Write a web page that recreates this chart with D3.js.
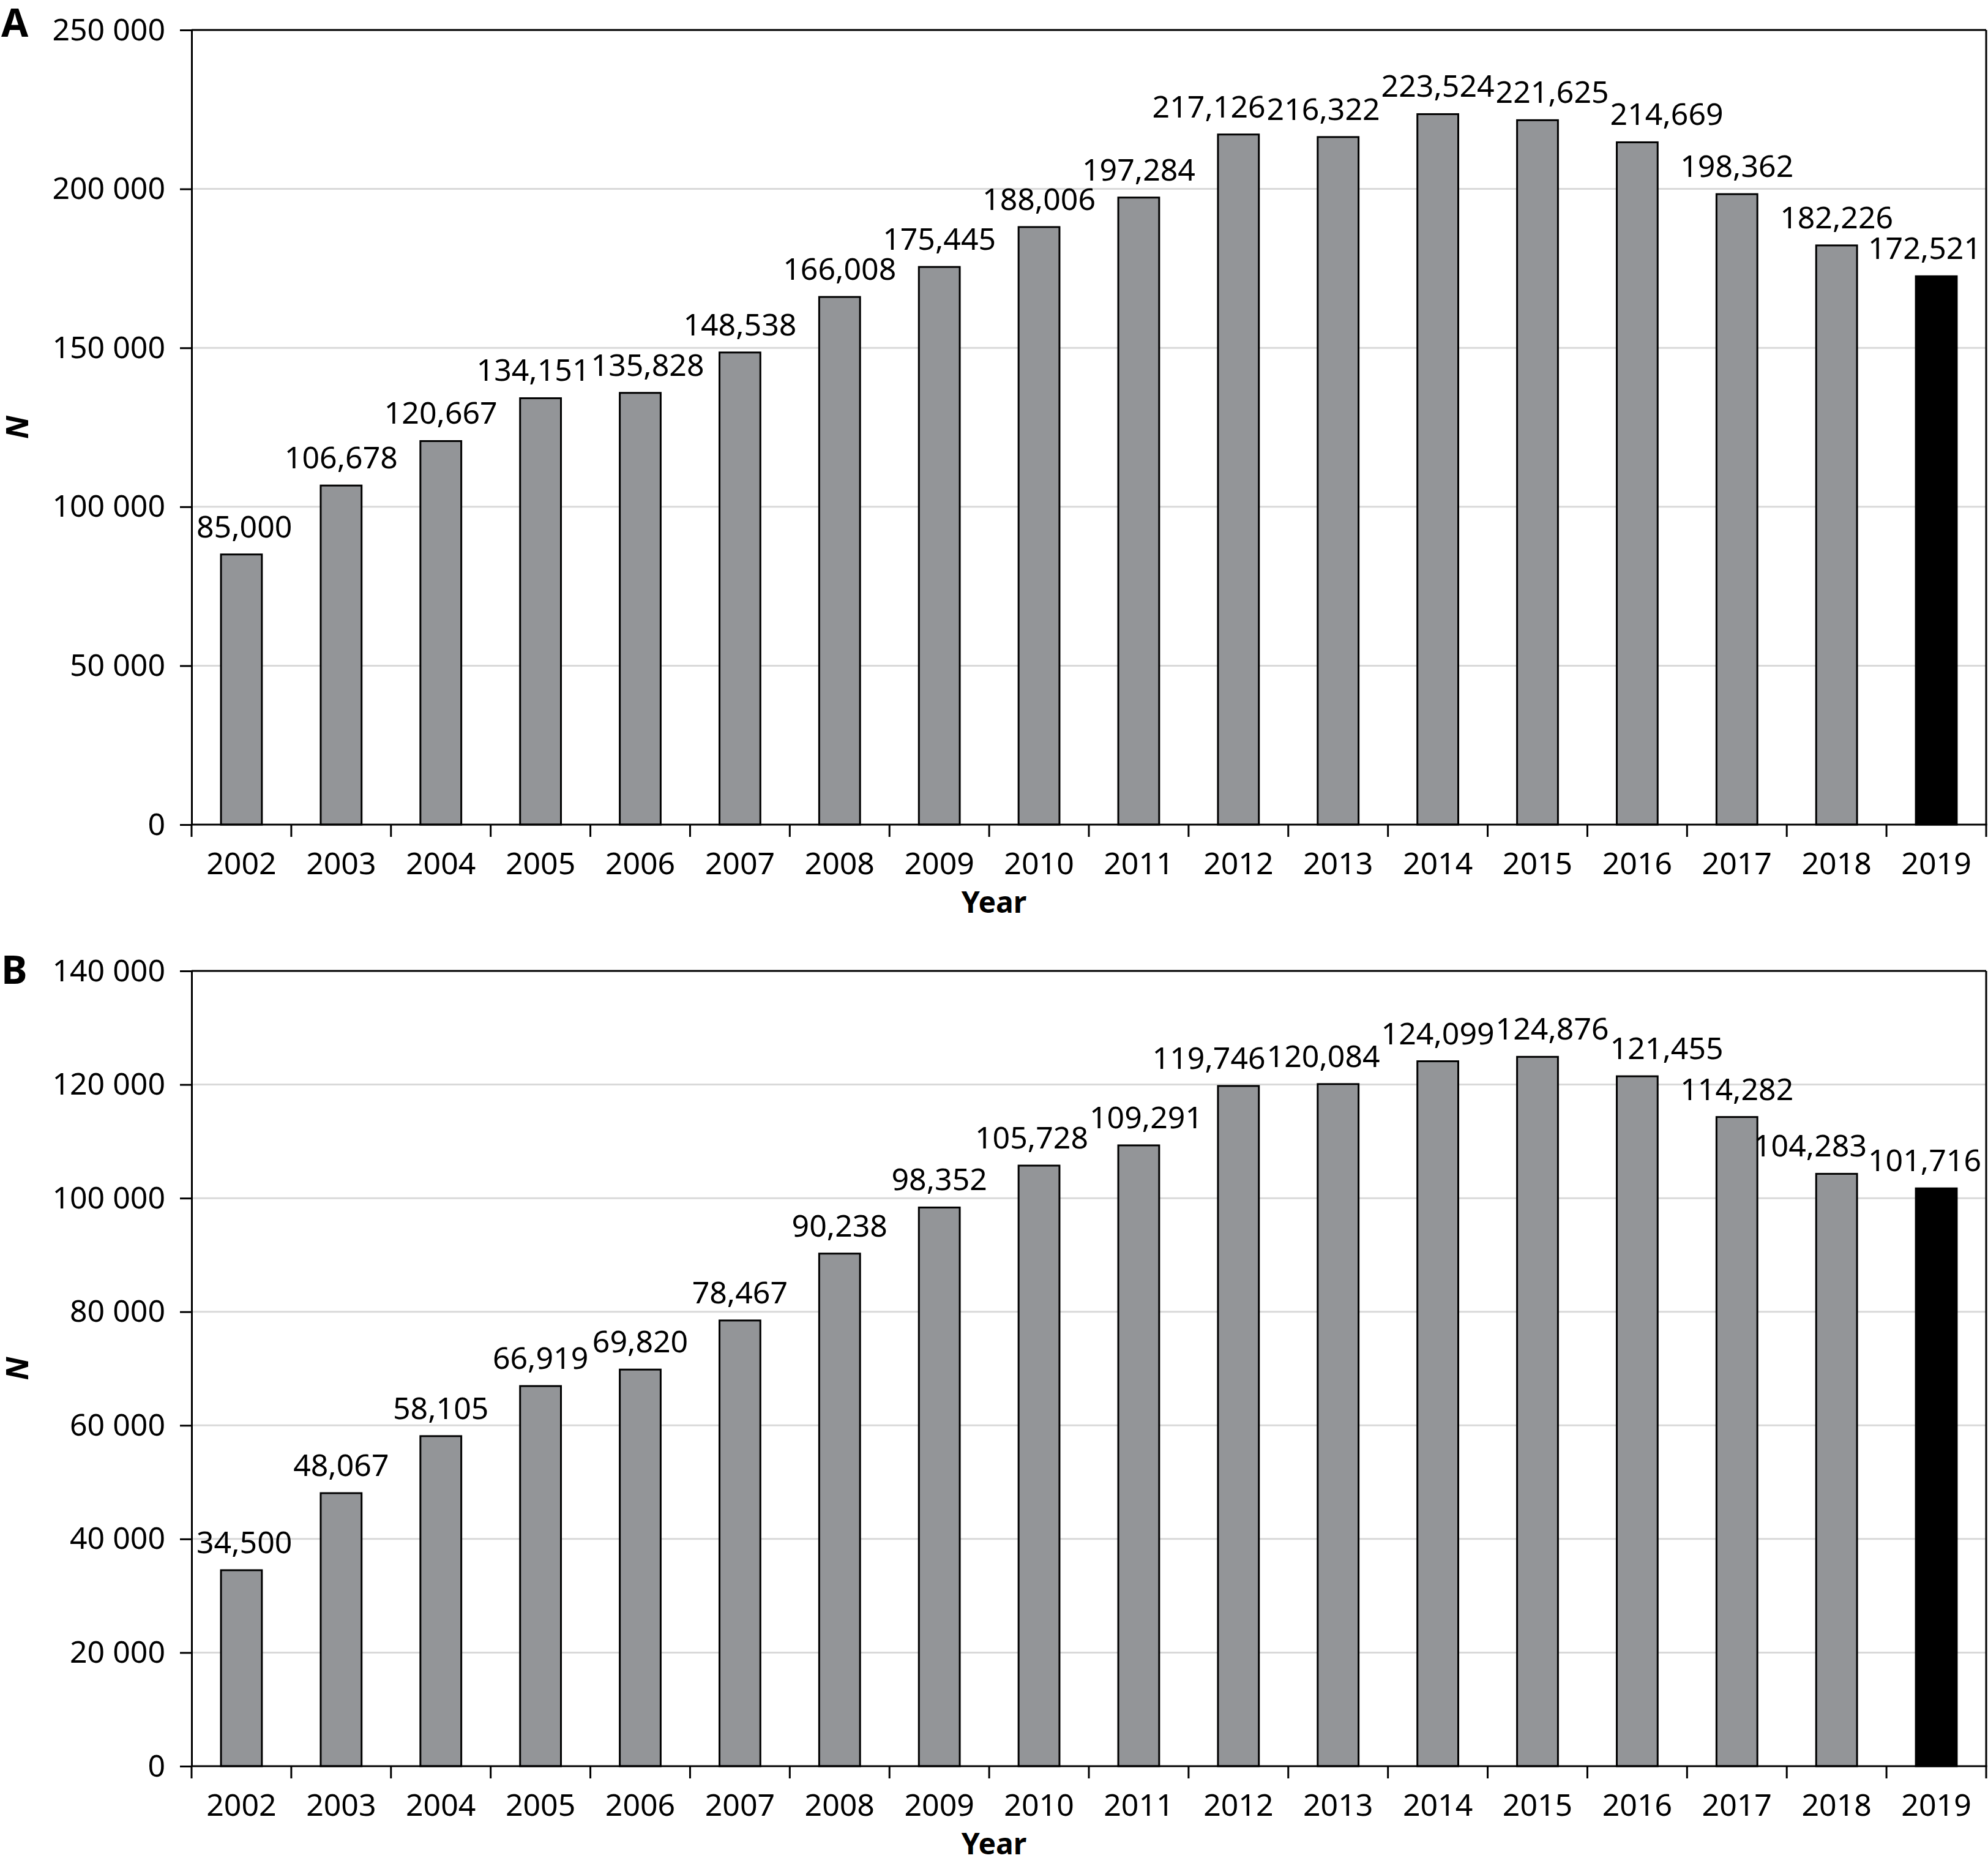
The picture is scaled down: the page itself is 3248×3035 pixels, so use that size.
<!DOCTYPE html>
<html>
<head>
<meta charset="utf-8">
<script src="https://cdn.jsdelivr.net/npm/d3@7"></script>
<style>
  html, body { margin: 0; padding: 0; background: #fff; }
  svg { display: block; }
  text { font-family: "Noto Sans", "Open Sans", sans-serif; fill: #000; }
</style>
</head>
<body>
<script>
// ---------------- data ----------------
const years = ["2002","2003","2004","2005","2006","2007","2008","2009","2010",
               "2011","2012","2013","2014","2015","2016","2017","2018","2019"];
const valuesA = [85000, 106678, 120667, 134151, 135828, 148538, 166008, 175445, 188006,
                 197284, 217126, 216322, 223524, 221625, 214669, 198362, 182226, 172521];
const valuesB = [34500, 48067, 58105, 66919, 69820, 78467, 90238, 98352, 105728,
                 109291, 119746, 120084, 124099, 124876, 121455, 114282, 104283, 101716];
const ticksA = [0, 50000, 100000, 150000, 200000, 250000];
const ticksB = [0, 20000, 40000, 60000, 80000, 100000, 120000, 140000];
const highlightYear = "2019";
const xTitle = "Year";
const yTitle = "N";

// ---------------- layout ----------------
const W = 3248, H = 3035;
const L = 313, R = 3245;
const svg = d3.select("body").append("svg").attr("width", W).attr("height", H)
  .attr("viewBox", `0 0 ${W} ${H}`);
svg.append("rect").attr("width", W).attr("height", H).attr("fill", "#fff");

const yFmt = v => d3.format(",")(v).replace(/,/g, " ");
const labelFmt = d3.format(",");

function panel(values, ticks, top, bottom, letter, letterBaseline) {
  const max = ticks[ticks.length - 1];
  const x = d3.scaleBand().domain(years).range([L, R]).paddingInner(0.59).paddingOuter(0.295);
  const y = d3.scaleLinear().domain([0, max]).range([bottom, top]);
  const g = svg.append("g");

  // gridlines
  g.append("g").selectAll("line").data(ticks.filter(t => t > 0 && t < max)).join("line")
    .attr("x1", L).attr("x2", R).attr("y1", d => y(d)).attr("y2", d => y(d))
    .attr("stroke", "#d9d9d9").attr("stroke-width", 3);

  // bars
  g.append("g").selectAll("rect").data(years).join("rect")
    .attr("x", d => x(d)).attr("width", x.bandwidth())
    .attr("y", (d, i) => y(values[i])).attr("height", (d, i) => y(0) - y(values[i]))
    .attr("fill", d => d === highlightYear ? "#000" : "#939598")
    .attr("stroke", "#000").attr("stroke-width", 3);

  // y axis
  const ya = g.append("g").attr("transform", `translate(${L},0)`)
    .call(d3.axisLeft(y).tickValues(ticks).tickFormat(yFmt).tickSize(19).tickSizeOuter(0).tickPadding(24));
  ya.select(".domain").attr("stroke-width", 3);
  ya.selectAll(".tick line").attr("stroke-width", 3);
  ya.selectAll("text").attr("font-size", 50).attr("font-family", null);

  // top frame
  g.append("line").attr("x1", L).attr("x2", R).attr("y1", y(max)).attr("y2", y(max))
    .attr("stroke", "#000").attr("stroke-width", 3);

  // x axis baseline
  g.append("line").attr("x1", L).attr("x2", R + 1.5).attr("y1", y(0)).attr("y2", y(0))
    .attr("stroke", "#000").attr("stroke-width", 3);

  // x boundary ticks (last one doubles as the right frame)
  const bounds = d3.range(years.length + 1).map(i => L + i * x.step());
  g.append("g").selectAll("line").data(bounds).join("line")
    .attr("x1", d => d).attr("x2", d => d).attr("y1", (d, i) => i === years.length ? y(max) : y(0))
    .attr("y2", y(0) + 20).attr("stroke", "#000").attr("stroke-width", 3);

  // x tick labels
  const xa = g.append("g").attr("transform", `translate(0,${y(0)})`)
    .call(d3.axisBottom(x).tickSize(0).tickPadding(45));
  xa.select(".domain").remove();
  xa.selectAll("text").attr("font-size", 50).attr("font-family", null);

  // x title
  g.append("text").attr("x", W / 2).attr("y", y(0) + 144).attr("text-anchor", "middle")
    .attr("font-size", 48).attr("font-weight", "bold").text(xTitle);

  // y title
  g.append("text").attr("transform", `translate(46,${(top + bottom) / 2}) rotate(-90)`)
    .attr("text-anchor", "middle").attr("font-size", 50).attr("font-weight", "bold")
    .attr("font-style", "italic").text(yTitle);

  // panel letter
  g.append("text").attr("x", 2).attr("y", letterBaseline).attr("font-size", 64)
    .attr("font-weight", "bold").text(letter);

  // value labels with simple collision relaxation
  const lbl = g.append("g").selectAll("text").data(years).join("text")
    .attr("font-size", 50).attr("text-anchor", "middle")
    .text((d, i) => labelFmt(values[i]));
  const items = [];
  lbl.each(function (d, i) {
    items.push({ el: this, cx: x(d) + x.bandwidth() / 2, y: y(values[i]) - 28, w: this.getComputedTextLength() });
  });
  for (let it = 0; it < 200; it++) {
    for (let i = 0; i < items.length - 1; i++) {
      const a = items[i], b = items[i + 1];
      if (Math.abs(a.y - b.y) < 38) {
        const ov = (a.cx + a.w / 2 + 2) - (b.cx - b.w / 2);
        if (ov > 0) { a.cx -= ov / 2; b.cx += ov / 2; }
      }
    }
    items.forEach(o => {
      o.cx = Math.min(o.cx, R - 8 - o.w / 2);
      o.cx = Math.max(o.cx, L + 8 + o.w / 2);
    });
  }
  items.forEach(o => d3.select(o.el).attr("x", o.cx).attr("y", o.y));
}

panel(valuesA, ticksA, 49, 1347, "A", 60);
panel(valuesB, ticksB, 1586, 2885, "B", 1607);
</script>
</body>
</html>
